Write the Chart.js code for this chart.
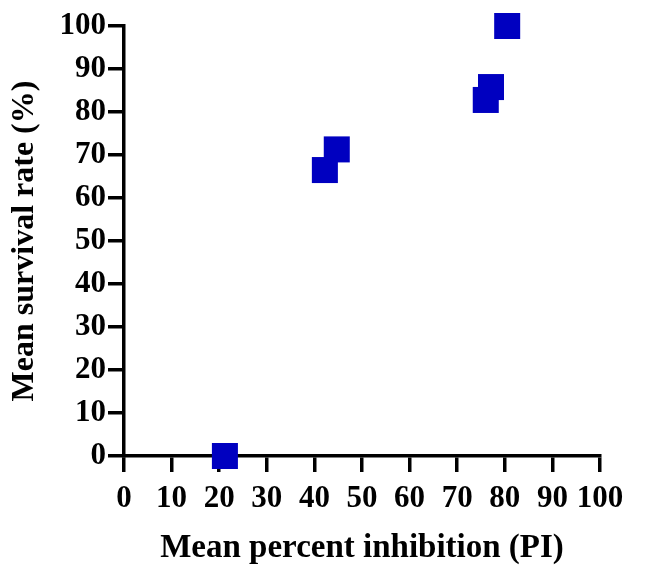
<!DOCTYPE html>
<html>
<head>
<meta charset="utf-8">
<script src="https://cdn.jsdelivr.net/npm/chart.js@4"></script>
<style>
    html, body { margin: 0; padding: 0; background: #fff; }
    #wrap { width: 647px; height: 565px; }
</style>
</head>
<body>
<div id="wrap"><canvas id="scatterChart"></canvas></div>
<script>
// mean percent inhibition vs mean survival rate, one point per group
const inhibition = [21.2, 42.2, 44.7, 76.0, 77.1, 80.5];
const survival = [0, 66.5, 71.3, 82.8, 85.8, 100];
const xTicks = [0, 10, 20, 30, 40, 50, 60, 70, 80, 90, 100];
const yTicks = [0, 10, 20, 30, 40, 50, 60, 70, 80, 90, 100];

const FONT = "'Liberation Serif', 'Times New Roman', serif";

function buildPoints() {
    return inhibition.map((x, i) => ({ x: x, y: survival[i] }));
}

function axisStyle(ticks) {
    return {
        type: "linear",
        min: ticks[0],
        max: ticks[ticks.length - 1],
        afterBuildTicks: (scale) => {
            scale.ticks = ticks.map(v => ({ value: v }));
        },
        border: { display: true, color: "#000", width: 3.5 },
        grid: {
            drawOnChartArea: false,
            drawTicks: true,
            tickLength: 16,
            tickWidth: 3.5,
            tickColor: "#000",
            lineWidth: 3.5,
            color: "#000"
        }
    };
}

function loadChart() {
    const ctx = document.getElementById("scatterChart");

    const xAxis = axisStyle(xTicks);
    xAxis.position = "bottom";
    xAxis.ticks = {
        color: "#000",
        padding: 8,
        maxRotation: 0,
        autoSkip: false,
        font: { family: FONT, size: 31, weight: "bold" }
    };
    xAxis.title = {
        display: true,
        text: "Mean percent inhibition (PI)",
        color: "#000",
        padding: { top: -1, bottom: 0 },
        font: { family: FONT, size: 33, weight: "bold", lineHeight: 1 }
    };
    xAxis.afterFit = (scale) => { scale.height = 109; };

    const yAxis = axisStyle(yTicks);
    yAxis.position = "left";
    yAxis.ticks = {
        color: "#000",
        padding: 2,
        autoSkip: false,
        font: { family: FONT, size: 31, weight: "bold" }
    };
    yAxis.title = {
        display: true,
        text: "Mean survival rate (%)",
        color: "#000",
        padding: { top: 9, bottom: 0 },
        font: { family: FONT, size: 32, weight: "bold", lineHeight: 1 }
    };
    yAxis.afterFit = (scale) => { scale.width = 124; };

    new Chart(ctx, {
        type: "scatter",
        data: {
            datasets: [{
                label: "Survival",
                data: buildPoints(),
                pointStyle: "rect",
                pointRadius: 18.4,
                pointHoverRadius: 18.4,
                backgroundColor: "#0000c0",
                borderColor: "#0000c0",
                borderWidth: 0,
                clip: false
            }]
        },
        options: {
            responsive: true,
            maintainAspectRatio: false,
            animation: false,
            layout: { padding: { top: 26, right: 47, bottom: 0, left: 0 } },
            plugins: {
                legend: { display: false },
                tooltip: { enabled: false }
            },
            scales: { x: xAxis, y: yAxis }
        }
    });
}

document.addEventListener("DOMContentLoaded", () => {
    loadChart();
});
</script>
</body>
</html>
